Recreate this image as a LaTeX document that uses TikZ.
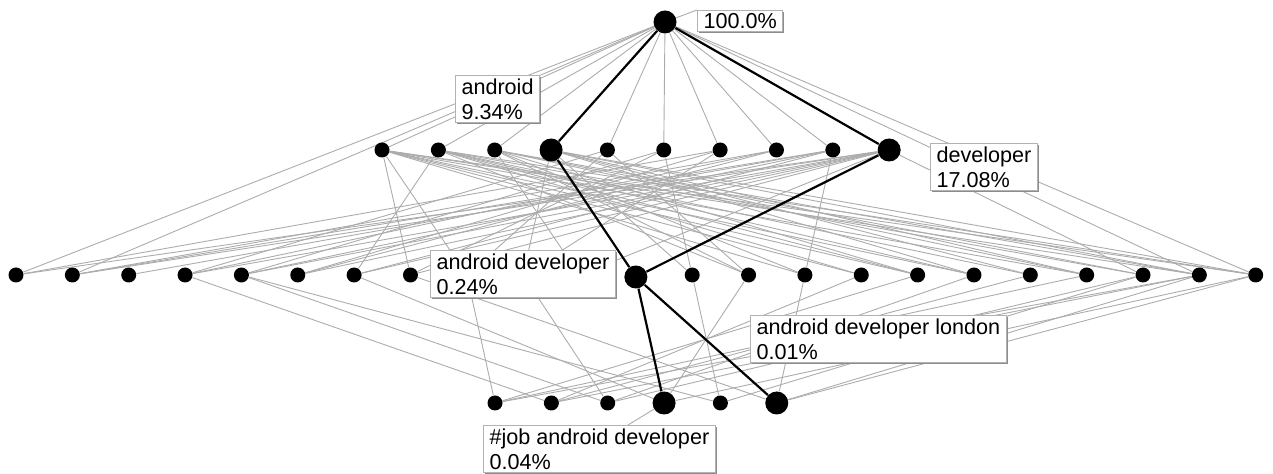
\documentclass[tikz,border=0pt]{standalone}
\usepackage{fontspec}
\setmainfont{Liberation Sans}
\usetikzlibrary{shadows}
\pgfdeclarelayer{bg}
\pgfsetlayers{bg,main}

\begin{document}
\begin{tikzpicture}[x=0.5pt,y=-0.5pt,
	dot/.style={circle,fill=black,inner sep=0pt,minimum size=7.5pt},
	bigdot/.style={circle,fill=black,inner sep=0pt,minimum size=11.5pt},
	edge/.style={gray!65,line width=0.45pt},
	hit/.style={black,line width=1.1pt},
	tag/.style={draw=gray!60,fill=white,line width=0.5pt,align=left,anchor=north west,
		inner xsep=3pt,inner ysep=1.5pt,font=\fontsize{10.8pt}{12.5pt}\selectfont,
		drop shadow={shadow xshift=0.7pt,shadow yshift=-0.7pt,fill=gray!90,opacity=1}}]
\useasboundingbox (0,0) rectangle (1273,474);
% Top
\node[bigdot] (t) at (665,22) {};
% Level 1
\foreach \i/\r in {1/7.5,2/7.5,3/7.5,4/11.5,5/7.5,6/7.5,7/7.5,8/7.5,9/7.5,10/11.5}
	\node[dot,minimum size=\r pt] (a\i) at ({382+56.35*(\i-1)},150) {};
% Level 2
\foreach \k in {0,...,22}{
	\ifnum\k=11 \node[bigdot] (b\k) at ({16+56.35*\k},277) {};
	\else \node[dot] (b\k) at ({16+56.35*\k},275) {};\fi}
% Level 3
\foreach \k/\r in {0/7.5,1/7.5,2/7.5,3/11.5,4/7.5,5/11.5}
	\node[dot,minimum size=\r pt] (c\k) at ({495+56.35*\k},403) {};
% Labels
\node[tag] (p100) at (697,10) {100.0\%};
\node[tag] (pand) at (455,75) {android\\9.34\%};
\node[tag] (pdev) at (930,143) {developer\\17.08\%};
\node[tag] (pad) at (430,250) {android developer\\0.24\%};
\node[tag] (padl) at (750,315) {android developer london\\0.01\%};
\node[tag] (pjob) at (483,425) {\#job android developer\\0.04\%};
\coordinate (jobtip) at (628,425);
\begin{pgfonlayer}{bg}
% top to level 1 and 2
\foreach \i in {1,2,3,5,6,7,8,9}
	\draw[edge] (t) -- (a\i);
\foreach \j in {0,1,21,22}
	\draw[edge] (t) -- (b\j);
% level 1 to level 2
\foreach \i/\j in {10/0,7/0,10/1,8/1,9/1,9/2,10/3,5/3,8/3,10/4,9/4,6/4,8/5,10/5,7/5,
	2/6,9/6,10/6,1/7,10/7,6/7,1/8,5/8,4/9,7/9,3/10,10/10,4/12,6/12,5/13,3/13,2/13,
	1/14,9/14,3/14,1/15,2/15,2/16,3/16,1/16,1/17,4/17,2/17,2/18,4/18,3/19,4/19,1/19,
	2/20,10/20,3/20,1/21,4/21,3/21,4/22,2/22,1/22}
	\draw[edge] (a\i) -- (b\j);
% level 2 to level 3
\foreach \j/\k in {8/0,19/0,21/0,16/0,3/1,18/1,21/1,15/1,9/2,4/2,20/2,17/2,6/3,13/3,22/3,
	12/4,4/4,20/4,7/5,21/5,22/5,14/5}
	\draw[edge] (b\j) -- (c\k);
% leaders
\draw[edge] (t) -- (p100.north west);
\draw[edge] (c3) -- (jobtip);
% selected path
\draw[hit] (t) -- (a4) (t) -- (a10) (a4) -- (b11) (a10) -- (b11)
	(b11) -- (c3) (b11) -- (c5);
\end{pgfonlayer}
\end{tikzpicture}
\end{document}
